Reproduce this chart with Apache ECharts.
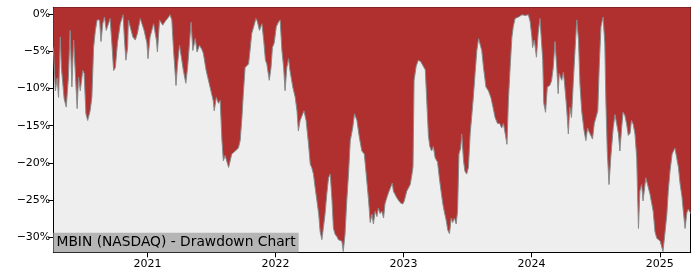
<!DOCTYPE html>
<html>
<head>
<meta charset="utf-8">
<script src="https://cdn.jsdelivr.net/npm/echarts@6/dist/echarts.min.js"></script>
<style>
html,body{margin:0;padding:0;background:#fff;}
#c{width:700px;height:280px;}
</style>
</head>
<body>
<div id="c"></div>
<script>
const titleText = 'MBIN (NASDAQ) - Drawdown Chart';
const yearTicks = ['2021-01-01','2022-01-01','2023-01-01','2024-01-01','2025-01-01'];
const yTicks = [0,-5,-10,-15,-20,-25,-30];
const dates = [
'2020-04-07','2020-04-13','2020-04-18','2020-04-22','2020-04-27','2020-04-30','2020-05-05','2020-05-08','2020-05-14','2020-05-20',
'2020-05-25','2020-05-30','2020-06-04','2020-06-09','2020-06-14','2020-06-18','2020-06-23','2020-06-30','2020-07-04','2020-07-09',
'2020-07-14','2020-07-21','2020-07-26','2020-07-31','2020-08-05','2020-08-10','2020-08-17','2020-08-21','2020-08-26','2020-08-31',
'2020-09-05','2020-09-10','2020-09-16','2020-09-21','2020-09-26','2020-10-01','2020-10-07','2020-10-15','2020-10-23','2020-10-27',
'2020-10-31','2020-11-05','2020-11-07','2020-11-12','2020-11-20','2020-11-27','2020-12-03','2020-12-11','2020-12-16','2020-12-22',
'2020-12-30',
'2021-01-02','2021-01-08','2021-01-18','2021-01-26','2021-01-29','2021-02-04','2021-02-08','2021-02-13','2021-02-20','2021-03-02',
'2021-03-06','2021-03-11','2021-03-16','2021-03-23','2021-03-27','2021-04-02','2021-04-06','2021-04-13','2021-04-20','2021-04-25',
'2021-05-05','2021-05-10','2021-05-17','2021-05-22','2021-05-29','2021-06-05','2021-06-09','2021-06-17','2021-06-28','2021-07-07',
'2021-07-10','2021-07-16','2021-07-22','2021-07-27','2021-08-01','2021-08-05','2021-08-10','2021-08-15','2021-08-20','2021-08-25',
'2021-08-29','2021-09-08','2021-09-17','2021-09-22','2021-09-27','2021-10-01','2021-10-06','2021-10-16','2021-10-21','2021-10-25',
'2021-10-30','2021-11-06','2021-11-10','2021-11-16','2021-11-23','2021-11-28','2021-12-03','2021-12-07','2021-12-14','2021-12-19',
'2021-12-23','2021-12-28',
'2022-01-03','2022-01-09','2022-01-14','2022-01-19','2022-01-24','2022-01-28','2022-02-02','2022-02-07','2022-02-11','2022-02-19',
'2022-02-26','2022-03-03','2022-03-07','2022-03-12','2022-03-17','2022-03-23','2022-03-29','2022-04-05','2022-04-10','2022-04-14',
'2022-04-19','2022-04-24','2022-04-29','2022-05-04','2022-05-08','2022-05-13','2022-05-17','2022-05-22','2022-05-27','2022-06-01',
'2022-06-06','2022-06-11','2022-06-15','2022-06-20','2022-06-25','2022-06-29','2022-07-04','2022-07-09','2022-07-13','2022-07-18',
'2022-07-23','2022-07-28','2022-08-02','2022-08-09','2022-08-14','2022-08-21','2022-08-28','2022-09-04','2022-09-11','2022-09-16',
'2022-09-23','2022-09-28','2022-10-03','2022-10-07','2022-10-12','2022-10-17','2022-10-21','2022-10-26','2022-10-31','2022-11-05',
'2022-11-09','2022-11-14','2022-11-19','2022-11-24','2022-11-30','2022-12-03','2022-12-08','2022-12-13','2022-12-19','2022-12-24',
'2022-12-30',
'2023-01-03','2023-01-10','2023-01-20','2023-01-25','2023-01-28','2023-01-31','2023-02-06','2023-02-12','2023-02-19','2023-02-26',
'2023-03-04','2023-03-08','2023-03-13','2023-03-17','2023-03-22','2023-03-27','2023-04-01','2023-04-08','2023-04-13','2023-04-18',
'2023-04-23','2023-04-27','2023-05-03','2023-05-07','2023-05-12','2023-05-17','2023-05-21','2023-05-26','2023-05-31','2023-06-04',
'2023-06-08','2023-06-13','2023-06-16','2023-06-21','2023-06-25','2023-06-30','2023-07-05','2023-07-10','2023-07-15','2023-07-19',
'2023-07-24','2023-07-29','2023-08-03','2023-08-07','2023-08-12','2023-08-17','2023-08-24','2023-08-31','2023-09-07','2023-09-13',
'2023-09-19','2023-09-26','2023-10-02','2023-10-08','2023-10-13','2023-10-18','2023-10-23','2023-10-27','2023-11-01','2023-11-06',
'2023-11-10','2023-11-15','2023-11-25','2023-12-05','2023-12-14','2023-12-23','2023-12-28',
'2024-01-02','2024-01-04','2024-01-09','2024-01-15','2024-01-20','2024-01-25','2024-01-29','2024-02-02','2024-02-05','2024-02-10',
'2024-02-15','2024-02-22','2024-02-27','2024-03-03','2024-03-08','2024-03-13','2024-03-17','2024-03-20','2024-03-27','2024-04-01',
'2024-04-05','2024-04-10','2024-04-15','2024-04-19','2024-04-24','2024-04-29','2024-05-04','2024-05-09','2024-05-14','2024-05-18',
'2024-05-23','2024-05-30','2024-06-04','2024-06-09','2024-06-13','2024-06-18','2024-06-23','2024-06-28','2024-07-03','2024-07-08',
'2024-07-12','2024-07-17','2024-07-23','2024-07-28','2024-07-31','2024-08-04','2024-08-09','2024-08-14','2024-08-21','2024-08-26',
'2024-08-31','2024-09-05','2024-09-09','2024-09-14','2024-09-18','2024-09-23','2024-09-28','2024-10-03','2024-10-08','2024-10-12',
'2024-10-17','2024-10-22','2024-10-27','2024-11-01','2024-11-05','2024-11-10','2024-11-14','2024-11-22','2024-11-27','2024-12-04',
'2024-12-09','2024-12-13','2024-12-18','2024-12-23','2024-12-27',
'2025-01-02','2025-01-07','2025-01-10','2025-01-16','2025-01-21','2025-01-25','2025-01-30','2025-02-05','2025-02-09','2025-02-13',
'2025-02-18','2025-02-23','2025-02-28','2025-03-05','2025-03-09','2025-03-14','2025-03-19','2025-03-23','2025-03-30'
];
const drawdown = [
-4.5,-10.3,-8.6,-11.2,-3.1,-7.2,-7.2,-11.4,-12.5,-8.5,
-2.2,-9.8,-3.5,-3.7,-12.7,-8.5,-10.3,-7.6,-8.0,-13.4,
-14.3,-13.0,-11.2,-4.5,-2.2,-0.8,-0.8,-3.7,-1.3,-0.4,
-2.2,-2.4,-0.6,-3.9,-7.6,-7.2,-3.9,-1.3,-0.1,-3.5,
-6.2,-4.5,-0.8,-0.8,-3.1,-3.5,-2.6,-0.6,-0.8,-2.2,
-3.9,
-6.0,-3.1,-1.3,-3.5,-5.1,-0.8,-0.7,-1.5,-1.0,-0.4,
-0.1,-0.8,-4.9,-9.6,-6.9,-4.2,-4.4,-7.6,-9.3,-7.2,
-1.1,-4.9,-3.3,-5.1,-4.2,-4.8,-5.3,-7.6,-9.8,-11.6,
-13.0,-11.2,-12.0,-11.6,-17.0,-19.7,-19.0,-19.0,-20.6,-20.4,
-18.8,-18.4,-18.0,-17.0,-13.9,-10.7,-7.2,-6.7,-4.5,-2.6,
-1.8,-0.6,-1.0,-2.2,-1.3,-3.5,-6.2,-6.7,-8.9,-7.2,
-4.5,-3.9,
-1.7,-1.1,-0.8,-4.9,-7.2,-10.3,-7.2,-6.0,-7.6,-9.8,
-11.2,-13.0,-15.7,-14.3,-13.7,-13.0,-14.3,-17.5,-20.2,-20.6,
-21.5,-23.4,-25.1,-26.9,-29.2,-30.3,-28.8,-26.9,-24.2,-22.0,
-21.5,-25.1,-28.8,-29.6,-29.9,-30.3,-30.1,-30.5,-31.9,-29.6,
-25.1,-21.5,-17.0,-15.3,-13.4,-14.3,-16.6,-18.4,-18.8,-21.3,
-24.9,-28.0,-26.9,-28.2,-26.5,-27.2,-26.1,-26.8,-26.5,-27.4,
-25.5,-24.7,-24.0,-23.4,-22.7,-23.8,-23.8,-24.7,-25.1,-25.4,
-25.5,
-25.1,-23.8,-22.9,-21.5,-20.5,-8.9,-7.0,-6.2,-6.4,-7.0,
-7.5,-11.5,-16.4,-17.8,-18.4,-17.8,-19.3,-19.9,-22.0,-23.8,
-25.5,-26.5,-27.8,-29.0,-29.5,-27.4,-28.0,-27.4,-28.2,-26.5,
-18.8,-18.0,-16.1,-19.7,-21.1,-21.5,-20.6,-16.1,-13.4,-11.2,
-8.0,-4.9,-3.3,-3.1,-4.9,-7.2,-9.8,-10.3,-11.2,-12.5,
-13.9,-14.7,-14.7,-15.3,-14.7,-16.1,-17.5,-11.6,-7.2,-3.1,
-1.7,-0.6,-0.4,-0.1,-0.2,-0.1,-1.0,
-3.1,-4.5,-3.5,-5.8,-2.6,-0.6,-0.6,-6.2,-12.0,-13.2,
-9.8,-9.6,-9.0,-7.2,-3.7,-7.2,-10.7,-8.0,-8.9,-7.8,
-9.8,-12.5,-16.1,-12.5,-13.9,-9.3,-4.9,-0.8,-3.5,-9.3,
-13.0,-15.7,-17.0,-15.3,-15.8,-15.6,-16.8,-14.7,-14.7,-13.0,
-7.2,-1.7,-0.4,-3.9,-11.6,-18.4,-22.9,-19.3,-15.3,-13.5,
-13.6,-16.1,-18.4,-15.3,-13.2,-13.6,-14.7,-16.3,-16.0,-14.3,
-14.8,-16.1,-19.3,-28.8,-23.8,-22.9,-25.1,-22.0,-21.8,-24.2,
-25.5,-26.5,-29.2,-30.1,-30.2,
-30.5,-30.6,-31.9,-29.2,-26.9,-23.8,-21.1,-18.8,-18.4,-18.0,
-19.3,-20.6,-22.9,-24.5,-26.5,-28.8,-26.7,-26.2,-26.8
];

const FONT = 'DejaVu Sans';
const toTs = s => { const p = s.split('-').map(Number); return Date.UTC(p[0], p[1]-1, p[2]); };
const seriesData = dates.map((d, i) => [toTs(d), drawdown[i]]);
const xMin = toTs(dates[0]);
const xMax = toTs(dates[dates.length-1]);
const yearTs = yearTicks.map(toTs);

const chart = echarts.init(document.getElementById('c'), null, {renderer: 'canvas'});
chart.setOption({
  animation: false,
  backgroundColor: '#ffffff',
  title: {
    text: titleText,
    left: 53.5,
    top: 232.7,
    padding: [2, 3, 1.6, 3],
    backgroundColor: '#b5b5b5',
    textStyle: {fontFamily: FONT, fontSize: 13.8, fontWeight: 'normal', color: '#000', lineHeight: 16},
    z: 10
  },
  grid: {
    left: 53.3, right: 9.3, top: 7.3, bottom: 27.7,
    show: true, backgroundColor: '#eeeeee', borderWidth: 0
  },
  xAxis: [{
    type: 'value', min: xMin, max: xMax, scale: true,
    axisLine: {show: true, onZero: false, lineStyle: {color: '#000', width: 1}},
    axisTick: {show: true, length: 5, lineStyle: {color: '#000'}, customValues: yearTs},
    axisLabel: {customValues: yearTs, fontFamily: FONT, fontSize: 11, color: '#000', margin: 6,
      formatter: v => String(new Date(v).getUTCFullYear())},
    splitLine: {show: false}
  }, {
    type: 'value', position: 'top', min: xMin, max: xMax, scale: true,
    axisLine: {show: true, onZero: false, lineStyle: {color: '#000', width: 1}},
    axisTick: {show: false}, axisLabel: {show: false}, splitLine: {show: false}
  }],
  yAxis: [{
    type: 'value', min: -32.0, max: 0.9,
    axisLine: {show: true, onZero: false, lineStyle: {color: '#000', width: 1}},
    axisTick: {show: true, length: 5, lineStyle: {color: '#000'}, customValues: yTicks},
    axisLabel: {customValues: yTicks, fontFamily: FONT, fontSize: 11, color: '#000', margin: 3,
      formatter: v => (v < 0 ? '\u2212' : '') + Math.abs(v) + '%'},
    splitLine: {show: false}
  }, {
    type: 'value', position: 'right', min: -32.0, max: 0.9,
    axisLine: {show: true, onZero: false, lineStyle: {color: '#000', width: 1}},
    axisTick: {show: false}, axisLabel: {show: false}, splitLine: {show: false}
  }],
  series: [{
    type: 'line',
    data: seriesData,
    xAxisIndex: 0, yAxisIndex: 0,
    showSymbol: false,
    symbol: 'none',
    lineStyle: {color: '#8a8a8a', width: 1},
    areaStyle: {color: '#b03030', opacity: 1, origin: 'end'},
    z: 2
  }]
});
</script>
</body>
</html>
